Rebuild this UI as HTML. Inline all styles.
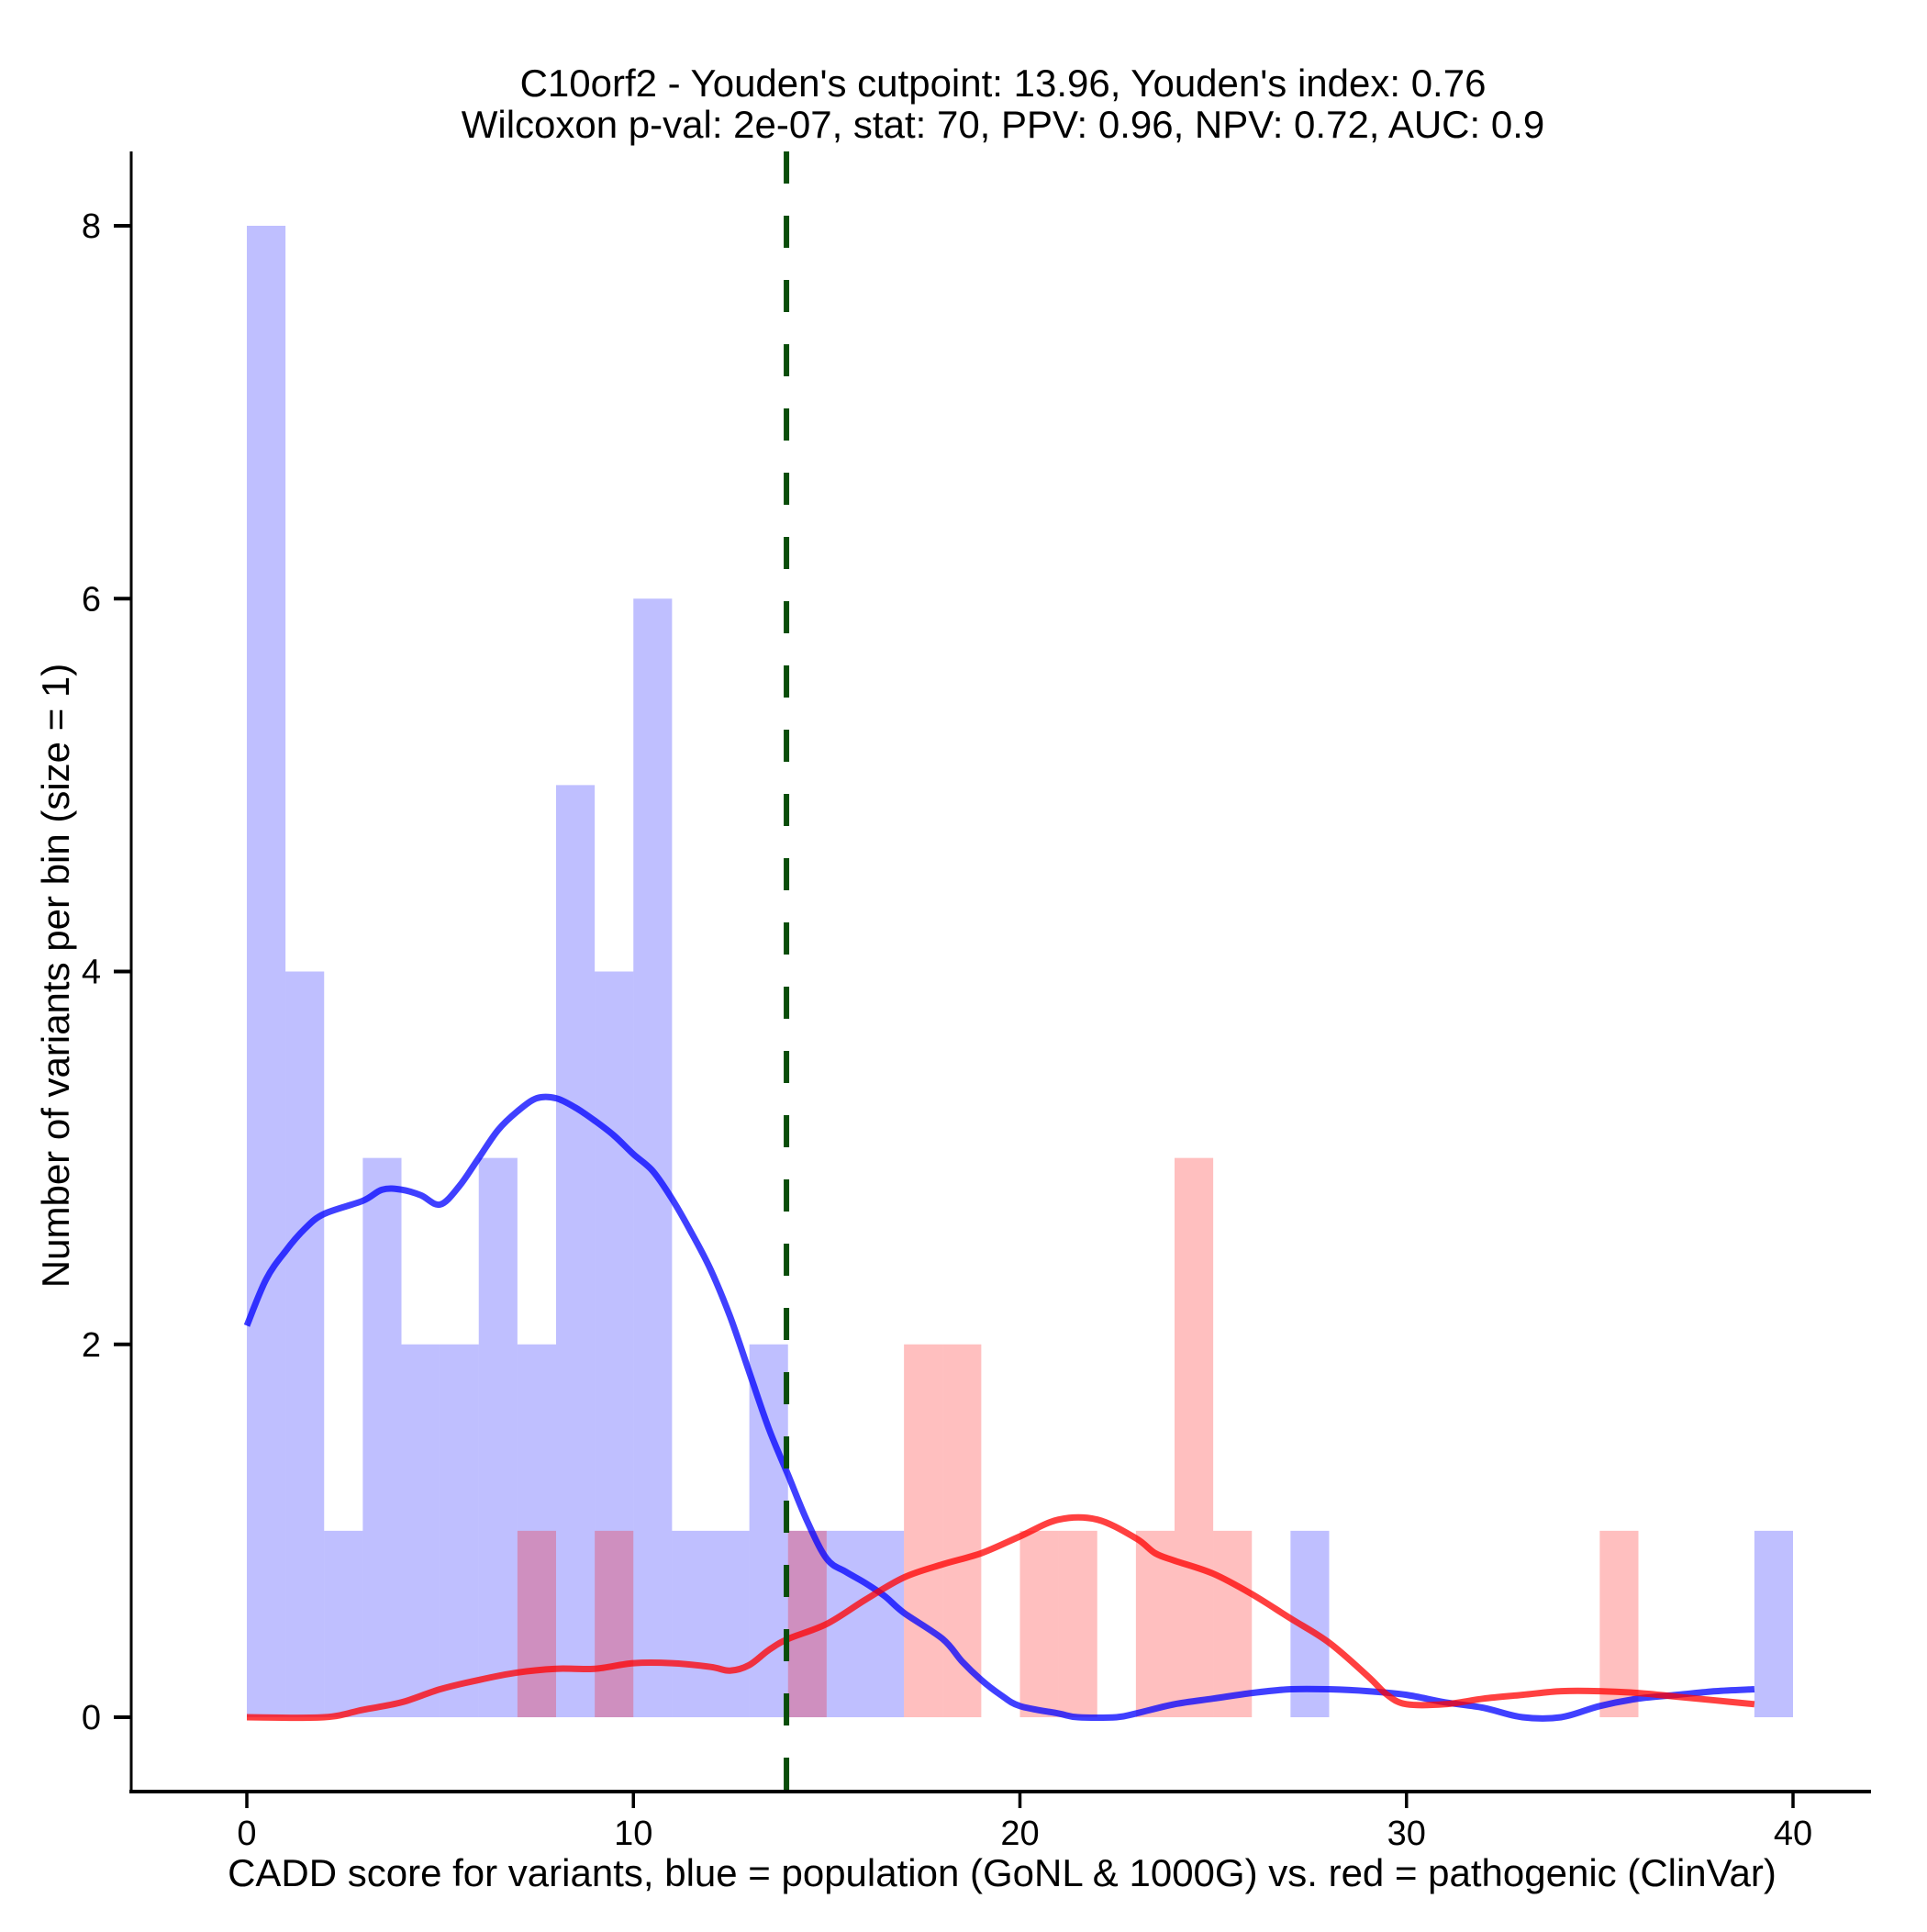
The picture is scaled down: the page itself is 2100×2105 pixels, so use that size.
<!DOCTYPE html>
<html><head><meta charset="utf-8"><style>
html,body{margin:0;padding:0;background:#fff;}
svg text{font-family:"Liberation Sans",Arial,sans-serif;fill:#000;}
</style></head><body>
<svg id="chart" width="2100" height="2100" viewBox="0 0 2100 2100" xmlns="http://www.w3.org/2000/svg">
<text x="1093" y="105" font-size="42" text-anchor="middle">C10orf2 - Youden's cutpoint: 13.96, Youden's index: 0.76</text>
<text x="1093" y="150" font-size="42" text-anchor="middle">Wilcoxon p-val: 2e-07, stat: 70, PPV: 0.96, NPV: 0.72, AUC: 0.9</text>
<g id="bars"></g>
<g id="lines"></g>
<g id="axes"></g>
<text x="1092" y="2055" font-size="42" text-anchor="middle">CADD score for variants, blue = population (GoNL &amp; 1000G) vs. red = pathogenic (ClinVar)</text>
<text x="0" y="0" font-size="42" text-anchor="middle" transform="translate(75,1063) rotate(-90)">Number of variants per bin (size = 1)</text>
</svg>
<script>
const blueCounts=[8,4,1,3,2,2,3,2,5,4,6,1,1,2,1,1,1,0,0,0,0,0,0,0,0,0,0,1,0,0,0,0,0,0,0,0,0,0,0,1];
const redCounts=[0,0,0,0,0,0,0,1,0,1,0,0,0,0,1,0,0,2,2,0,1,1,0,1,3,1,0,0,0,0,0,0,0,0,0,1,0,0,0,0];
const blueDensX=[0,0.5,1,1.5,2,3,3.5,4,4.5,5,5.5,6,6.5,7,7.5,8,8.5,9,9.5,10,10.5,11,11.5,12,12.5,13,13.5,14,14.5,15,15.5,16,16.5,17,18,18.5,19,19.5,20,21,21.5,22.5,23,24,25,26,27,28,29,30,31,32,33,34,35,36,37,38,39];
const blueDensY=[2.1,2.35,2.5,2.62,2.7,2.77,2.83,2.83,2.8,2.75,2.85,3.0,3.15,3.25,3.32,3.32,3.27,3.2,3.12,3.02,2.93,2.78,2.6,2.4,2.15,1.85,1.55,1.3,1.05,0.85,0.78,0.72,0.65,0.56,0.42,0.3,0.2,0.12,0.06,0.02,0,0,0.02,0.07,0.1,0.13,0.15,0.15,0.14,0.12,0.08,0.05,0,0,0.06,0.1,0.12,0.14,0.15];
const redDensX=[0,2,3,4,5,6,7,8,9,10,11,12,12.5,13,13.5,14,15,16,17,18,19,20,21,22,23,23.5,24,25,26,27,28,29,29.5,30,31,32,33,34,35,36,37,38,39];
const redDensY=[0,0,0.04,0.08,0.15,0.2,0.24,0.26,0.26,0.29,0.29,0.27,0.25,0.28,0.36,0.42,0.5,0.63,0.75,0.82,0.88,0.97,1.06,1.06,0.96,0.88,0.84,0.77,0.66,0.53,0.4,0.22,0.12,0.07,0.07,0.1,0.12,0.14,0.14,0.13,0.11,0.09,0.07];
const xTicks=[0,10,20,30,40];
const yTicks=[0,2,4,6,8];
const cutpoint=13.96;

const NS='http://www.w3.org/2000/svg';
const sx=v=>269+(1954-269)*v/40;
const sy=v=>1871-(1871-246)*v/8;
function mk(tag,attrs,parent){const e=document.createElementNS(NS,tag);for(const k in attrs)e.setAttribute(k,attrs[k]);parent.appendChild(e);return e;}
const bars=document.getElementById('bars'),lines=document.getElementById('lines'),axes=document.getElementById('axes');
blueCounts.forEach((c,i)=>{if(!c)return;const r=mk('rect',{x:sx(i),y:sy(c),width:sx(i+1)-sx(i),height:sy(0)-sy(c),fill:'rgb(0,0,255)','fill-opacity':0.25},bars);

});
redCounts.forEach((c,i)=>{if(!c)return;const r=mk('rect',{x:sx(i),y:sy(c),width:sx(i+1)-sx(i),height:sy(0)-sy(c),fill:'rgb(255,0,0)','fill-opacity':0.25},bars);

});
function path(xs,ys){
  const P=xs.map((x,i)=>[sx(x),sy(ys[i])]);
  let d='M'+P[0][0].toFixed(1)+','+P[0][1].toFixed(1);
  for(let i=0;i<P.length-1;i++){
    const p0=P[Math.max(0,i-1)],p1=P[i],p2=P[i+1],p3=P[Math.min(P.length-1,i+2)];
    const c1=[p1[0]+(p2[0]-p0[0])/6,p1[1]+(p2[1]-p0[1])/6];
    const c2=[p2[0]-(p3[0]-p1[0])/6,p2[1]-(p3[1]-p1[1])/6];
    d+='C'+c1.map(v=>v.toFixed(1)).join(',')+' '+c2.map(v=>v.toFixed(1)).join(',')+' '+p2.map(v=>v.toFixed(1)).join(',');
  }
  return d;
}
const bl=mk('path',{d:path(blueDensX,blueDensY),fill:'none',stroke:'rgb(0,0,255)','stroke-opacity':0.75,'stroke-width':7,'stroke-linejoin':'round'},lines);


const rl=mk('path',{d:path(redDensX,redDensY),fill:'none',stroke:'rgb(255,0,0)','stroke-opacity':0.75,'stroke-width':7,'stroke-linejoin':'round'},lines);


const cl=mk('line',{x1:sx(cutpoint),x2:sx(cutpoint),y1:165,y2:1952,stroke:'#0a4d0a','stroke-width':6,'stroke-dasharray':'35,35'},lines);


const xa=mk('line',{x1:141,x2:2039,y1:1952,y2:1952,stroke:'#000','stroke-width':4},axes);


const ya=mk('line',{x1:143,x2:143,y1:165,y2:1954,stroke:'#000','stroke-width':3},axes);


xTicks.forEach(t=>{const l=mk('line',{x1:sx(t),x2:sx(t),y1:1952,y2:1970,stroke:'#000','stroke-width':3.5},axes);


const tx=mk('text',{x:sx(t),y:2010,'font-size':38,'text-anchor':'middle'},axes);tx.textContent=t;

});
yTicks.forEach(t=>{const l=mk('line',{x1:124,x2:143,y1:sy(t),y2:sy(t),stroke:'#000','stroke-width':4},axes);


const tx=mk('text',{x:110,y:sy(t)+13,'font-size':38,'text-anchor':'end'},axes);tx.textContent=t;

});
</script>
</body></html>
